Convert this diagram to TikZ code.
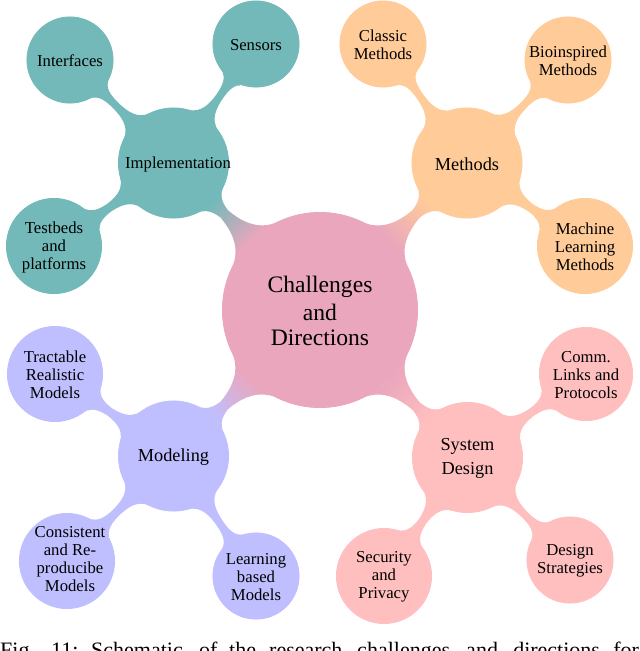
\documentclass[tikz,border=0pt]{standalone}
\usepackage{fontspec}
\setmainfont{Liberation Serif}
\usetikzlibrary{mindmap,backgrounds}
\definecolor{cRoot}{HTML}{E9A6BD}
\definecolor{cTeal}{HTML}{73B9B9}
\definecolor{cOrange}{HTML}{FFCC99}
\definecolor{cBlue}{HTML}{BFBFFF}
\definecolor{cRed}{HTML}{FFBFBF}
\newcommand{\capw}[2]{\makebox[#1pt][l]{#2}}
\tikzset{
  blob/.style={circle,inner sep=0pt,outer sep=0pt,line width=0.8pt,minimum size=#1},
  lbl/.style={inner sep=0pt,align=center,text=black,yshift=-1pt,font=\fontsize{16.7}{18}\selectfont},
  lblbig/.style={inner sep=0pt,align=center,text=black,yshift=-1pt,font=\fontsize{18.3}{23.7}\selectfont},
  lblroot/.style={inner sep=0pt,align=center,text=black,yshift=-1pt,font=\fontsize{23.6}{25}\selectfont},
  caption/.style={anchor=base west,inner sep=0pt,font=\fontsize{22}{24}\selectfont},
  decoration={amplitude=4pt,angle=20}
}
\begin{document}
\begin{tikzpicture}[x=1pt,y=-1pt]
\clip (0,0) rectangle (640,651);
\node[blob=195.2pt,fill=cRoot,draw=cRoot,label={[lblroot]center:{Challenges\\[3pt]and\\Directions}}] (c) at (320,310) {};

\node[blob=110.2pt,fill=cTeal,draw=cTeal,label={[lbl,xshift=4.5pt]center:Implementation}] (impl) at (173.5,163) {};
\node[blob=86.2pt,fill=cTeal,draw=cTeal,label={[lbl]center:Interfaces}] (intf) at (70,60) {};
\node[blob=86.2pt,fill=cTeal,draw=cTeal,label={[lbl]center:Sensors}] (sens) at (256,44) {};
\node[blob=95.2pt,fill=cTeal,draw=cTeal,label={[lbl]center:{Testbeds\\and\\platforms}}] (test) at (54,246) {};

\node[blob=110.2pt,fill=cOrange,draw=cOrange,label={[lblbig]center:Methods}] (meth) at (467,163) {};
\node[blob=86.2pt,fill=cOrange,draw=cOrange,label={[lbl]center:{Classic\\Methods}}] (clas) at (383,44) {};
\node[blob=86.2pt,fill=cOrange,draw=cOrange,label={[lbl]center:{Bioinspired\\Methods}}] (bio) at (568,60) {};
\node[blob=95.2pt,fill=cOrange,draw=cOrange,label={[lbl]center:{Machine\\Learning\\Methods}}] (ml) at (585,246) {};

\node[blob=110.2pt,fill=cBlue,draw=cBlue,label={[lblbig]center:Modeling}] (mod) at (173.5,456) {};
\node[blob=95.2pt,fill=cBlue,draw=cBlue,label={[lbl]center:{Tractable\\Realistic\\Models}}] (tract) at (55,374) {};
\node[blob=95.2pt,fill=cBlue,draw=cBlue,label={[lbl,xshift=3pt,yshift=2.5pt]center:{Consistent\\and Re-\\producibe\\Models}}] (cons) at (67,561) {};
\node[blob=86.2pt,fill=cBlue,draw=cBlue,label={[lbl]center:{Learning\\based\\Models}}] (learn) at (256,576) {};

\node[blob=110.2pt,fill=cRed,draw=cRed,label={[lblbig]center:{System\\Design}}] (sys) at (467.5,457.5) {};
\node[blob=93.2pt,fill=cRed,draw=cRed,label={[lbl]center:{Comm.\\Links and\\Protocols}}] (comm) at (586,374) {};
\node[blob=86.2pt,fill=cRed,draw=cRed,label={[lbl]center:{Design\\Strategies}}] (dstr) at (570,560) {};
\node[blob=95.2pt,fill=cRed,draw=cRed,label={[lbl]center:{Security\\and\\Privacy}}] (sec) at (384,576) {};

\begin{pgfonlayer}{background}
\path (c) to[circle connection bar switch color=from (cRoot) to (cTeal)] (impl);
\path (c) to[circle connection bar switch color=from (cRoot) to (cOrange)] (meth);
\path (c) to[circle connection bar switch color=from (cRoot) to (cBlue)] (mod);
\path (c) to[circle connection bar switch color=from (cRoot) to (cRed)] (sys);
\path (impl) to[circle connection bar switch color=from (cTeal) to (cTeal)] (intf);
\path (impl) to[circle connection bar switch color=from (cTeal) to (cTeal)] (sens);
\path (impl) to[circle connection bar switch color=from (cTeal) to (cTeal)] (test);
\path (meth) to[circle connection bar switch color=from (cOrange) to (cOrange)] (clas);
\path (meth) to[circle connection bar switch color=from (cOrange) to (cOrange)] (bio);
\path (meth) to[circle connection bar switch color=from (cOrange) to (cOrange)] (ml);
\path (mod) to[circle connection bar switch color=from (cBlue) to (cBlue)] (tract);
\path (mod) to[circle connection bar switch color=from (cBlue) to (cBlue)] (cons);
\path (mod) to[circle connection bar switch color=from (cBlue) to (cBlue)] (learn);
\path (sys) to[circle connection bar switch color=from (cRed) to (cRed)] (comm);
\path (sys) to[circle connection bar switch color=from (cRed) to (cRed)] (dstr);
\path (sys) to[circle connection bar switch color=from (cRed) to (cRed)] (sec);
\end{pgfonlayer}

\node[caption] (cap) at (0,657) {\capw{51}{Fig.}\capw{40}{11:}\capw{108}{Schematic}\capw{30}{of}\capw{40}{the}\capw{88}{research}\capw{109}{challenges}\capw{47}{and}\capw{100}{directions}\capw{27}{for}};
\end{tikzpicture}
\end{document}
